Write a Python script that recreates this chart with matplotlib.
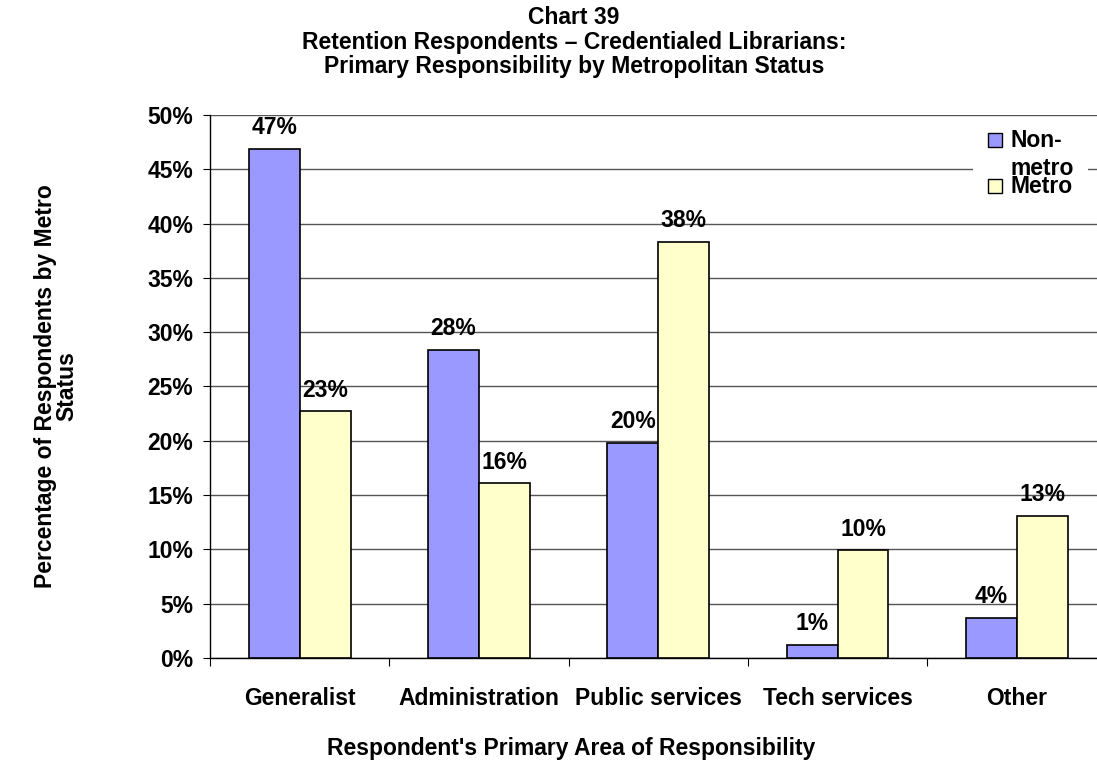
import matplotlib
matplotlib.use("Agg")
import matplotlib.pyplot as plt
from matplotlib.patches import Rectangle
import numpy as np

plt.rcParams['font.family'] = ['Liberation Sans', 'DejaVu Sans']
plt.rcParams['font.weight'] = 'bold'

categories = ['Generalist', 'Administration', 'Public services', 'Tech services', 'Other']
non_metro = [46.9, 28.4, 19.8, 1.2, 3.7]
metro = [22.7, 16.1, 38.3, 9.9, 13.1]
non_metro_labels = ['47%', '28%', '20%', '1%', '4%']
metro_labels = ['23%', '16%', '38%', '10%', '13%']
yticks = np.arange(0, 51, 5)

FS = 16.5
W, H = 1097, 766
fig = plt.figure(figsize=(W / 100, H / 100), dpi=100)
# plot area runs past the right edge of the picture, like the original
ax = fig.add_axes([210 / W, 1 - 658 / H, 896.5 / W, 543 / H])

x = np.arange(len(categories))
bw = 0.284
b1 = ax.bar(x - bw / 2, non_metro, bw, color='#9999FF', edgecolor='black', linewidth=1.2, zorder=3)
b2 = ax.bar(x + bw / 2, metro, bw, color='#FFFFCC', edgecolor='black', linewidth=1.2, zorder=3)

for bars, labs in [(b1, non_metro_labels), (b2, metro_labels)]:
    for b, lab in zip(bars, labs):
        ax.annotate(lab, (b.get_x() + b.get_width() / 2, b.get_height()),
                    xytext=(0, 10.5), textcoords='offset points',
                    ha='center', va='baseline', fontsize=FS, fontweight='bold')

ax.set_xlim(-0.5, len(categories) - 0.5)
ax.set_ylim(0, 50)
ax.set_yticks(yticks)
ax.set_yticklabels([f'{v}%' for v in yticks], fontsize=FS, fontweight='bold')
ax.yaxis.grid(True, color='#555555', linewidth=1, zorder=0)
ax.set_axisbelow(True)

ax.set_xticks(np.arange(-0.5, len(categories)))
ax.set_xticklabels([])
ax.set_xticks(x, minor=True)
ax.set_xticklabels(categories, minor=True, fontsize=FS, fontweight='bold')
ax.tick_params(axis='x', which='major', length=6, direction='out')
ax.tick_params(axis='x', which='minor', length=0, pad=21)
ax.tick_params(axis='y', length=5, direction='out', pad=7)

for s in ['top', 'right']:
    ax.spines[s].set_visible(False)
ax.spines['left'].set_linewidth(1)
ax.spines['bottom'].set_linewidth(1)

fig.text(574 / W, 1 - 42 / H,
         'Chart 39\nRetention Respondents \u2013 Credentialed Librarians:\nPrimary Responsibility by Metropolitan Status',
         ha='center', va='center', fontsize=FS, fontweight='bold', linespacing=1.07)
fig.text(571 / W, 1 - 748 / H, "Respondent's Primary Area of Responsibility",
         ha='center', va='center', fontsize=FS, fontweight='bold')
fig.text(56 / W, 1 - 386 / H, 'Percentage of Respondents by Metro\nStatus',
         ha='center', va='center', rotation=90, fontsize=FS, fontweight='bold',
         multialignment='center', linespacing=0.9)

# legend, drawn by hand so the wrapped label overlaps like the original
fig.patches.append(Rectangle((973 / W, 1 - 200 / H), 115 / W, 72 / H,
                             transform=fig.transFigure, facecolor='white',
                             edgecolor='none', zorder=5))
fig.patches.append(Rectangle((988 / W, 1 - 147 / H), 14 / W, 14 / H,
                             transform=fig.transFigure, facecolor='#9999FF',
                             edgecolor='black', linewidth=1, zorder=6))
fig.patches.append(Rectangle((988 / W, 1 - 193 / H), 14 / W, 14 / H,
                             transform=fig.transFigure, facecolor='#FFFFCC',
                             edgecolor='black', linewidth=1, zorder=6))
fig.text(1010 / W, 1 - 147 / H, 'Non-', ha='left', va='baseline', fontsize=FS, fontweight='bold', zorder=7)
fig.text(1010 / W, 1 - 175 / H, 'metro', ha='left', va='baseline', fontsize=FS, fontweight='bold', zorder=7)
fig.text(1010 / W, 1 - 193 / H, 'Metro', ha='left', va='baseline', fontsize=FS, fontweight='bold', zorder=7)

fig.savefig('out.png', dpi=100)
